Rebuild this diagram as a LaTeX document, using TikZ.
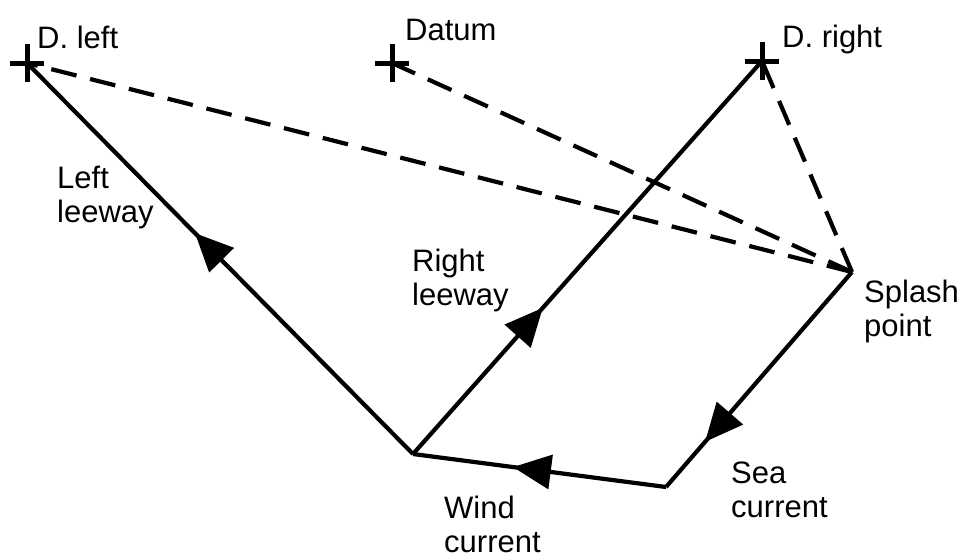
\documentclass[tikz,border=0pt]{standalone}
\usepackage{fontspec}
\setmainfont{Liberation Sans}
\usetikzlibrary{arrows.meta,decorations.markings}
\tikzset{
  seg/.style={line width=4.2pt, line join=miter},
  dashseg/.style={line width=4.2pt, dash pattern=on 26pt off 14pt},
  crossmark/.style={line width=5pt},
  lbl/.style={font=\fontsize{31}{33.5}\selectfont, inner sep=0pt, anchor=base west, align=left},
  arrowat/.style={postaction={decorate, decoration={markings,
      mark=at position #1 with {\arrow{Triangle[length=38pt,width=34pt]}}}}}
}
\begin{document}
\begin{tikzpicture}[x=1pt,y=-1pt]
\useasboundingbox (0,0) rectangle (965,557);
% points
\coordinate (dleft) at (27,63);
\coordinate (datum) at (392,63);
\coordinate (dright) at (762,61);
\coordinate (splash) at (852,272);
\coordinate (sea) at (666,487);
\coordinate (wind) at (413,454);
% crosses
\foreach \p in {dleft,datum,dright}{
  \draw[crossmark] ([xshift=-17pt]\p) -- ([xshift=17pt]\p);
  \draw[crossmark] ([yshift=-19pt]\p) -- ([yshift=19pt]\p);
}
% dashed lines
\draw[dashseg] (splash) -- (dleft);
\draw[dashseg] (splash) -- (datum);
\draw[dashseg] (splash) -- (dright);
% solid path
\draw[seg, arrowat=0.79] (splash) -- (sea);
\draw[seg, arrowat=0.605] (sea) -- (wind);
\draw[seg, arrowat=0.565] (wind) -- (dleft);
\draw[seg, arrowat=0.372] (wind) -- (dright);
% labels (multi-line nodes: base anchor is on the last line)
\node[lbl] (tdleft) at (37,48) {D. left};
\node[lbl] (tdatum) at (405,40) {Datum};
\node[lbl] (tdright) at (782,47) {D. right};
\node[lbl] (tleft) at (57,222) {Left\\leeway};
\node[lbl] (tright) at (412,305) {Right\\leeway};
\node[lbl] (tsplash) at (864,336) {Splash\\point};
\node[lbl] (tsea) at (731,517) {Sea\\current};
\node[lbl] (twind) at (444,552) {Wind\\current};
\end{tikzpicture}
\end{document}
